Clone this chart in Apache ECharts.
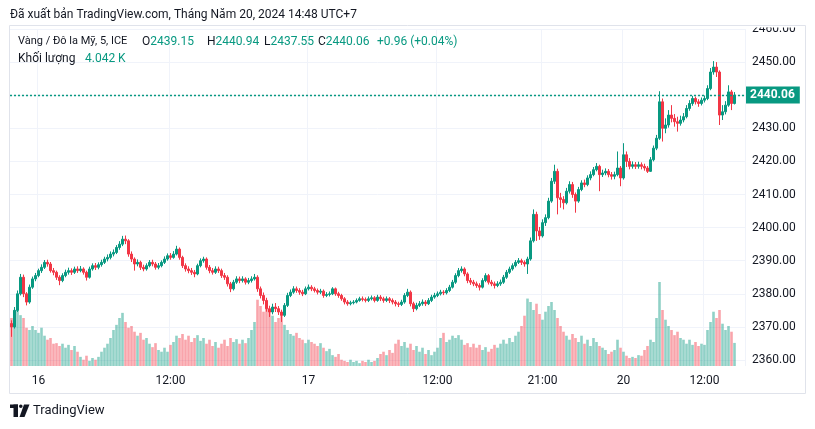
<!DOCTYPE html>
<html><head><meta charset="utf-8">
<script src="https://cdn.jsdelivr.net/npm/echarts/dist/echarts.min.js"></script>
<style>html,body{margin:0;padding:0;background:#fff}#c{width:815px;height:429px}</style>
</head><body><div id="c"></div>
<script>
// 15-minute aggregated bars (Vàng / Đô la Mỹ, 5, ICE)
const openP = [
2371,2370,2375,2380,2385,2380,2377.5,2382,2384.5,2385.5,
2387,2388,2389.5,2389,2387,2386.5,2385,2384,2385.5,2386.5,
2387,2386.5,2387.5,2387,2387.5,2386.5,2385,2387.5,2388.5,2388,
2388.8,2389.5,2390.5,2391,2392,2392.5,2394,2395,2396.5,2396,
2392,2390.5,2389,2389.5,2388,2387.5,2388.5,2389.5,2389,2388,
2388.5,2389.5,2390.5,2391.5,2391,2392,2393.5,2391,2388.5,2387.5,
2387,2386.5,2386,2388.5,2390,2390.5,2388,2387,2386.5,2387.5,
2387,2385.5,2385,2383,2381.5,2383.5,2384.5,2384,2384.5,2383.5,
2384,2384.5,2385,2381.5,2379.5,2378,2375.5,2374.5,2376,2375.5,
2374.5,2373.5,2376.5,2379.5,2380.5,2381.5,2381,2380.5,2380,2381.5,
2382,2381.5,2381,2380.5,2380.8,2379.5,2379.8,2380,2381.5,2380,
2379.5,2378.5,2377.5,2377,2377.3,2377.5,2378,2378.5,2378.3,2378,
2378.5,2378.8,2378,2379,2378.5,2378,2378.5,2378,2377.5,2377,
2376.8,2377.5,2379.5,2380.5,2377,2375.5,2376.5,2377,2377.5,2377,
2378,2379,2379.5,2380,2380.5,2380.3,2381,2382,2383.5,2385.5,
2387,2387.5,2386,2384,2383.5,2383,2382.5,2382,2384,2385.5,
2383.5,2383,2382.5,2383,2383.5,2385,2386.5,2387.5,2388.5,2389.5,
2390,2389.5,2389,2390.5,2396,2404,2399,2397.5,2401.5,2403,
2408,2414,2417,2409,2408.5,2407.5,2411,2413,2410,2408,
2411.5,2413.5,2413,2415,2416,2417.5,2418.5,2416,2416.5,2417,
2416,2415.5,2416,2418,2415,2422,2420,2418.5,2419,2418.5,
2419,2418.5,2418,2417,2420.5,2424,2427,2438,2430,2431,
2434,2433,2432,2431.5,2432.5,2433.5,2436,2437.5,2439,2438,
2437.5,2438.5,2439,2442,2447,2448.5,2447,2434,2435,2437,
2441,2437.5];
const closeP = [
2370,2375,2380,2385,2380,2377.5,2382,2384.5,2385.5,2387,
2388,2389.5,2389,2387,2386.5,2385,2384,2385.5,2386.5,2387,
2386.5,2387.5,2387,2387.5,2386.5,2385,2387.5,2388.5,2388,2388.8,
2389.5,2390.5,2391,2392,2392.5,2394,2395,2396.5,2396,2392,
2390.5,2389,2389.5,2388,2387.5,2388.5,2389.5,2389,2388,2388.5,
2389.5,2390.5,2391.5,2391,2392,2393.5,2391,2388.5,2387.5,2387,
2386.5,2386,2388.5,2390,2390.5,2388,2387,2386.5,2387.5,2387,
2385.5,2385,2383,2381.5,2383.5,2384.5,2384,2384.5,2383.5,2384,
2384.5,2385,2381.5,2379.5,2378,2375.5,2374.5,2376,2375.5,2374.5,
2373.5,2376.5,2379.5,2380.5,2381.5,2381,2380.5,2380,2381.5,2382,
2381.5,2381,2380.5,2380.8,2379.5,2379.8,2380,2381.5,2380,2379.5,
2378.5,2377.5,2377,2377.3,2377.5,2378,2378.5,2378.3,2378,2378.5,
2378.8,2378,2379,2378.5,2378,2378.5,2378,2377.5,2377,2376.8,
2377.5,2379.5,2380.5,2377,2375.5,2376.5,2377,2377.5,2377,2378,
2379,2379.5,2380,2380.5,2380.3,2381,2382,2383.5,2385.5,2387,
2387.5,2386,2384,2383.5,2383,2382.5,2382,2384,2385.5,2383.5,
2383,2382.5,2383,2383.5,2385,2386.5,2387.5,2388.5,2389.5,2390,
2389.5,2389,2390.5,2396,2404,2399,2397.5,2401.5,2403,2408,
2414,2417,2409,2408.5,2407.5,2411,2413,2410,2408,2411.5,
2413.5,2413,2415,2416,2417.5,2418.5,2416,2416.5,2417,2416,
2415.5,2416,2418,2415,2422,2420,2418.5,2419,2418.5,2419,
2418.5,2418,2417,2420.5,2424,2427,2438,2430,2431,2434,
2433,2432,2431.5,2432.5,2433.5,2436,2437.5,2439,2438,2437.5,
2438.5,2439,2442,2447,2448.5,2447,2434,2435,2437,2441,
2437.5,2440.06];
const highP = [
2372,2376,2381,2386,2385.8,2380.5,2382.8,2385.2,2386.3,2387.6,
2388.9,2390.2,2390.3,2389.6,2387.8,2387,2385.6,2386.2,2387.3,2387.9,
2387.7,2388.2,2388.3,2388.4,2388,2387,2388.2,2389.2,2389.3,2389.5,
2390.3,2391.2,2391.9,2392.8,2393.4,2394.7,2395.9,2397.5,2397.6,2396.5,
2392.8,2391,2390.4,2390,2388.8,2389.2,2390.2,2390.3,2389.6,2389.3,
2390.1,2391.3,2392.2,2392.3,2392.9,2394.5,2394,2391.5,2389.2,2388.3,
2387.8,2387.2,2389.1,2390.7,2391.2,2391,2388.7,2387.8,2388.3,2388.2,
2387.6,2386.3,2385.6,2383.6,2384.2,2385.3,2385.2,2385.3,2385,2384.8,
2385.3,2386,2385.6,2382.2,2380.4,2378.8,2376.4,2377,2377.2,2376.3,
2375.2,2377.2,2380.3,2381.3,2382.3,2382.2,2381.7,2381.2,2382.2,2382.8,
2382.6,2382.1,2381.6,2381.5,2381.3,2380.5,2380.7,2382,2381.9,2380.6,
2380,2379,2378.1,2377.9,2378.1,2378.6,2379.1,2379.2,2378.9,2379.2,
2379.5,2379.3,2379.7,2379.6,2379.1,2379.2,2379,2378.6,2378.1,2377.6,
2378.2,2380.2,2381.5,2381,2377.6,2377.3,2377.8,2378.3,2378.1,2378.7,
2379.7,2380.3,2380.7,2381.2,2381.1,2381.7,2382.7,2384.2,2386.2,2387.8,
2388.3,2388,2386.5,2384.8,2384.2,2383.7,2383.2,2384.7,2386.2,2386,
2384.2,2383.7,2383.8,2384.3,2385.7,2387.2,2388.2,2389.2,2390.2,2390.8,
2390.6,2390.1,2391.2,2397,2405.5,2404.8,2400.2,2402.5,2404,2409,
2415,2419,2417.8,2410.5,2409.5,2412,2414,2413.8,2410.6,2412.3,
2414.3,2414.5,2415.8,2417,2418.3,2419.5,2419,2417.5,2417.9,2417.7,
2416.8,2416.9,2423,2418.6,2425.5,2423,2421,2420,2419.8,2419.9,
2419.7,2419.3,2418.6,2421.3,2424.8,2428,2441.2,2439,2433,2435.5,
2437,2434.3,2433.5,2433.8,2434.6,2437,2438.5,2439.8,2439.6,2438.8,
2439.3,2439.9,2443,2448.2,2450.3,2450,2447.5,2437,2438.2,2443,
2441.6,2440.94];
const lowP = [
2367,2369.5,2374.5,2379.5,2379,2376.5,2377,2381.5,2383.8,2385,
2386.3,2387.5,2388.2,2386.4,2385.6,2384.2,2382.6,2383.5,2385,2385.8,
2385.7,2386,2386.3,2386.5,2385.8,2384,2384.6,2387,2387.2,2387.4,
2388.2,2389,2389.8,2390.4,2391.3,2392,2393.3,2394.4,2395,2391.2,
2389.6,2387,2388.3,2387.2,2386.8,2387,2388,2388.3,2387.3,2387.4,
2388,2389,2390,2390.3,2390.6,2391.6,2390.3,2387.8,2386.7,2386.2,
2385.7,2385,2385.6,2388,2389.4,2387.3,2386.2,2385.8,2386,2386.3,
2384.8,2384.2,2382.2,2380.5,2381,2383,2383.2,2383.4,2382.8,2382.9,
2383.4,2384,2380.6,2378.6,2376.8,2374.6,2373,2373.8,2374.5,2373.6,
2371.5,2373,2376,2379,2380,2380.3,2379.7,2379.3,2379.6,2381,
2380.8,2380.4,2379.8,2379.9,2378.8,2379,2379.2,2379.6,2379.4,2378.8,
2377.9,2376.8,2376.4,2376.5,2376.8,2377.1,2377.6,2377.7,2377.4,2377.5,
2378,2377.4,2377.6,2377.8,2377.3,2377.5,2377.2,2376.8,2376.2,2376,
2376.3,2377,2379,2376.2,2374.5,2375,2376,2376.4,2376.3,2376.6,
2377.5,2378.5,2379,2379.5,2379.6,2379.8,2380.5,2381.6,2383,2385,
2386.4,2385.3,2383.2,2382.7,2382.3,2381.8,2381,2381.6,2383.5,2382.8,
2382.3,2381.6,2382,2382.4,2383,2384.5,2386,2387,2388,2389,
2388.7,2388.2,2386,2390,2395.5,2396,2396.3,2397,2400.5,2402.5,
2407.5,2413.2,2404,2406,2405.5,2407,2410.3,2409,2404.5,2407.5,
2411,2412.2,2412.5,2414.3,2415.5,2417,2411,2415.3,2415.8,2415.2,
2414.5,2414.6,2415.5,2412.5,2414.5,2418.3,2417.6,2417.8,2417.7,2417.8,
2417.6,2417.2,2416.5,2416.8,2420,2423.4,2426.5,2426,2428.5,2430.2,
2431.8,2430.5,2429,2430.8,2431.8,2433,2435.3,2436.8,2437.2,2436.5,
2436.9,2437.8,2438.5,2441.5,2446.2,2445.5,2431,2432.5,2434.2,2436.5,
2435.5,2437.2];
// volume, thousands
const volumeK = [
8.4,9.8,10.5,8.9,8.4,6.7,6.3,7.0,6.3,5.8,
6.7,5.3,4.6,4.9,3.9,4.0,3.5,3.9,3.2,3.7,
2.8,3.5,2.5,1.6,1.1,1.8,0.9,1.4,1.1,1.6,
2.5,3.2,3.9,4.9,6.3,7.2,8.4,9.3,7.7,6.7,
7.0,6.0,5.3,5.8,4.6,4.9,3.9,3.3,4.0,2.8,
2.5,3.2,2.5,3.7,4.2,5.3,4.9,5.6,4.6,5.3,
4.2,4.9,5.4,4.4,4.9,3.9,4.6,3.5,4.2,3.2,
3.9,4.6,3.5,4.9,4.2,4.7,3.9,4.6,4.0,4.9,
6.3,7.7,11.6,10.5,9.5,11.2,9.8,8.8,7.7,8.4,
9.1,7.2,6.3,5.6,5.3,5.8,4.9,4.6,4.0,4.6,
4.2,3.9,3.5,4.0,3.2,2.6,3.0,1.9,1.6,2.1,
1.1,0.9,0.7,1.1,0.7,0.9,0.5,0.9,0.7,1.1,
0.7,0.9,1.4,2.1,2.5,1.9,2.8,2.3,3.9,4.6,
3.5,4.2,3.2,3.9,2.8,3.5,2.5,3.2,2.1,2.8,
1.9,2.5,3.2,4.9,5.8,4.2,4.6,5.3,4.9,5.4,
4.6,3.7,4.0,3.3,3.9,3.2,3.7,2.8,3.3,2.5,
3.0,3.7,3.2,3.9,4.6,3.9,4.9,4.2,5.3,6.0,
7.0,8.8,11.8,11.2,9.8,10.9,9.1,8.1,9.5,10.5,
11.2,9.8,8.4,7.0,6.0,5.3,4.6,5.6,4.9,4.2,
5.3,3.9,4.6,3.5,4.9,4.2,3.5,3.2,2.8,2.1,
2.5,2.8,4.6,3.2,2.5,1.8,1.4,1.6,1.4,1.9,
1.8,2.8,3.5,4.6,4.2,8.4,14.7,9.8,8.1,7.0,
6.3,5.4,6.0,4.9,4.6,3.9,4.6,3.7,4.2,3.5,
3.9,3.7,6.3,7.7,9.5,8.4,9.8,7.4,6.3,7.0,
6.0,4.042];
const tickIdx = [9, 53, 99, 142, 177, 204, 231];
const tickLabels = ['16', '12:00', '17', '12:00', '21:00', '20', '12:00'];
const SLOTS = 245;
const lastPrice = 2440.06;
const lastVolume = 4.042;
const headerText = 'Đã xuất bản TradingView.com, Tháng Năm 20, 2024 14:48 UTC+7';
const symbolText = 'Vàng / Đô la Mỹ, 5, ICE';
const ohlc = [['O', '2439.15'], ['H', '2440.94'], ['L', '2437.55'], ['C', '2440.06']];
const changeText = '+0.96 (+0.04%)';
const volTitle = 'Khối lượng';
const volValue = '4.042 K';

const UP = '#089981', DOWN = '#f23645';
const UPV = 'rgba(8,153,129,0.45)', DOWNV = 'rgba(242,54,69,0.45)';
const GRID = '#f0f3fa', TXT = '#131722';
const FONT = 'Roboto, "Noto Sans", sans-serif';

const cats = Array.from({length: SLOTS}, (_, i) => String(i));
const candles = closeP.map((c, i) => [openP[i], c, lowP[i], highP[i]]);
const volData = volumeK.map((v, i) => ({value: v, itemStyle: {color: closeP[i] >= openP[i] ? UPV : DOWNV}}));
const isTick = (i) => tickIdx.indexOf(i) >= 0;

const chart = echarts.init(document.getElementById('c'), null, {renderer: 'canvas'});
const legendX = [142, 207, 264, 318];
const graphics = [
  {type: 'text', left: 10, top: 9, z: 100, style: {text: headerText, fill: TXT, font: '12px ' + FONT}},
  {type: 'text', left: 18, top: 36, z: 100, style: {text: symbolText, fill: TXT, font: '11px ' + FONT}},
  {type: 'text', left: 377, top: 36, z: 100, style: {text: changeText, fill: UP, font: '12px ' + FONT}},
  {type: 'text', left: 18, top: 53, z: 100, style: {text: volTitle, fill: TXT, font: '12px ' + FONT}},
  {type: 'text', left: 85, top: 53, z: 100, style: {text: volValue, fill: UP, font: '12px ' + FONT}},
  {type: 'rect', z: 99, shape: {x: 746, y: 8, width: 58, height: 19.5}, style: {fill: '#fff'}},
  {type: 'rect', z: 101, shape: {x: 9.5, y: 25.5, width: 796, height: 368}, style: {fill: 'none', stroke: '#e0e3eb', lineWidth: 1}},
  {type: 'rect', z: 100, shape: {x: 10, y: 404.5, width: 8, height: 3.5}, style: {fill: TXT}},
  {type: 'rect', z: 100, shape: {x: 13.5, y: 404.5, width: 4.5, height: 12.5}, style: {fill: TXT}},
  {type: 'circle', z: 100, shape: {cx: 20.8, cy: 406.3, r: 1.8}, style: {fill: TXT}},
  {type: 'polygon', z: 100, shape: {points: [[24, 404.5], [29.5, 404.5], [24.5, 417], [19.5, 417]]}, style: {fill: TXT}},
  {type: 'text', left: 33, top: 404, z: 100, style: {text: 'TradingView', fill: TXT, font: '13px ' + FONT}}
];
ohlc.forEach((p, k) => {
  graphics.push({type: 'text', left: legendX[k], top: 36, z: 100, style: {
    text: '{a|' + p[0] + '}{b|' + p[1] + '}', font: '12px ' + FONT,
    rich: {a: {fill: TXT, font: '12px ' + FONT}, b: {fill: UP, font: '12px ' + FONT}}}});
});

chart.setOption({
  animation: false,
  backgroundColor: '#ffffff',
  textStyle: {fontFamily: FONT},
  grid: [
    {left: 10, right: 70, top: 29, bottom: 69},
    {left: 10, right: 70, top: 266, bottom: 63}
  ],
  xAxis: [
    {type: 'category', gridIndex: 0, data: cats, boundaryGap: true,
     axisLine: {show: false}, axisTick: {show: false}, axisLabel: {show: false},
     splitLine: {show: true, interval: isTick, lineStyle: {color: GRID, width: 1}}},
    {type: 'category', gridIndex: 1, data: cats, boundaryGap: true,
     axisLine: {show: false}, axisTick: {show: false},
     axisLabel: {show: true, interval: isTick, formatter: (v, i) => tickLabels[tickIdx.indexOf(Number(v))] || '',
       color: TXT, fontSize: 12, margin: 9, fontFamily: FONT},
     splitLine: {show: true, interval: isTick, lineStyle: {color: GRID, width: 1}}}
  ],
  yAxis: [
    {type: 'value', gridIndex: 0, position: 'right', min: 2360, max: 2460, interval: 10,
     axisLine: {show: false}, axisTick: {show: false},
     axisLabel: {formatter: (v) => v.toFixed(2), color: TXT, fontSize: 12, margin: 7, fontFamily: FONT},
     splitLine: {show: true, lineStyle: {color: GRID, width: 1}}},
    {type: 'value', gridIndex: 1, min: 0, max: 17.5, show: false}
  ],
  series: [
    {type: 'bar', xAxisIndex: 1, yAxisIndex: 1, data: volData, barWidth: 2.6, z: 1, silent: true,
     markLine: {symbol: ['none', 'none'], silent: true, data: [{yAxis: lastVolume}],
       lineStyle: {opacity: 0, width: 0},
       label: {show: true, position: 'end', distance: 1, formatter: volValue, color: '#fff',
         backgroundColor: '#22ab94', fontSize: 12, fontWeight: 'bold', padding: [3, 4, 2, 4], fontFamily: FONT}}},
    {type: 'candlestick', xAxisIndex: 0, yAxisIndex: 0, data: candles, barWidth: 1.8, z: 3, silent: true,
     itemStyle: {color: UP, color0: DOWN, borderColor: UP, borderColor0: DOWN, borderWidth: 1},
     markLine: {symbol: ['none', 'none'], silent: true, data: [{yAxis: lastPrice}],
       lineStyle: {color: UP, type: [2, 2], width: 1.3},
       label: {show: true, position: 'end', distance: 1, formatter: lastPrice.toFixed(2), color: '#fff',
         backgroundColor: UP, fontSize: 12, fontWeight: 'bold', padding: [3, 5, 2, 4], fontFamily: FONT}}}
  ],
  graphic: graphics
});
</script></body></html>
